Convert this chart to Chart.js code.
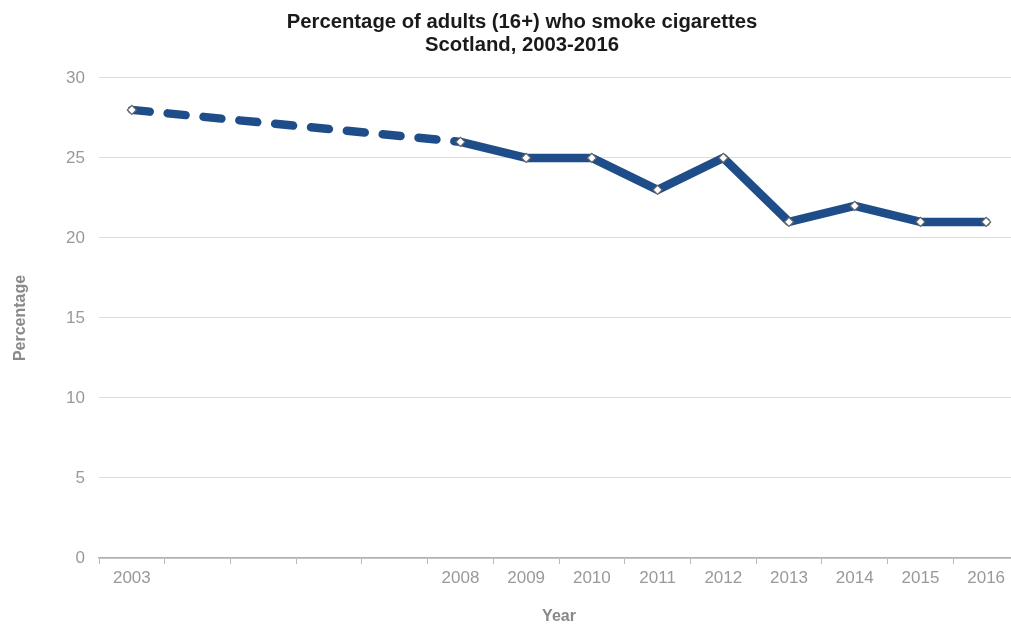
<!DOCTYPE html>
<html>
<head>
<meta charset="utf-8">
<script src="https://cdn.jsdelivr.net/npm/chart.js@4"></script>
<style>
  html, body { margin: 0; padding: 0; background: #fff; overflow: hidden; }
  #wrap { width: 1044px; height: 626px; }
</style>
</head>
<body>
<div id="wrap"><canvas id="smokeChart"></canvas></div>
<script>
// every year on the axis, and the years that have a survey value
const allYears = ['2003','2004','2005','2006','2007','2008','2009','2010','2011','2012','2013','2014','2015','2016'];
const surveyYears = ['2003','2008','2009','2010','2011','2012','2013','2014','2015','2016'];
const smokePct = [28, 26, 25, 25, 23, 25, 21, 22, 21, 21];
const yTicks = [0, 5, 10, 15, 20, 25, 30];

// 2003 -> 2008 gap drawn dashed, rest solid
const gapPoints = surveyYears.slice(0, 2).map((y, i) => ({ x: y, y: smokePct[i] }));
const yearlyPoints = surveyYears.slice(1).map((y, i) => ({ x: y, y: smokePct[i + 1] }));

const lineBlue = '#1f4d89';
const greyText = '#999999';

// centre the title over the whole canvas, not the padded box
const titleShift = {
    id: 'titleShift',
    afterLayout: function(chart) {
        const t = chart.titleBlock;
        if (t) { t.left += 12.5; t.right += 12.5; }
    }
};

const ctx = document.getElementById('smokeChart').getContext('2d');
const smokeChart = new Chart(ctx, {
    type: 'line',
    plugins: [titleShift],
    data: {
        labels: allYears,
        datasets: [{
            label: '2003-2008',
            data: gapPoints,
            order: 1,
            borderColor: lineBlue,
            borderWidth: 8.5,
            borderDash: [18, 18],
            borderCapStyle: 'round',
            pointStyle: 'rectRot',
            pointRadius: [4.5, 0],
            pointBackgroundColor: '#ffffff',
            pointBorderColor: '#666666',
            pointBorderWidth: 1.2,
            tension: 0
        },
        {
            label: 'Smokers',
            data: yearlyPoints,
            order: 0,
            borderColor: lineBlue,
            borderWidth: 8.5,
            borderJoinStyle: 'round',
            borderCapStyle: 'round',
            pointStyle: 'rectRot',
            pointRadius: 4.5,
            pointBackgroundColor: '#ffffff',
            pointBorderColor: '#666666',
            pointBorderWidth: 1.2,
            tension: 0
        }]
    },
    options: {
        responsive: true,
        maintainAspectRatio: false,
        animation: false,
        layout: { padding: { left: 0, right: 25, top: 0, bottom: 0 } },
        scales: {
            x: {
                type: 'category',
                offset: true,
                grid: {
                    offset: true,
                    drawOnChartArea: false,
                    drawTicks: true,
                    tickLength: 6,
                    color: '#b8b8b8',
                    lineWidth: 1
                },
                border: { display: true, color: '#b0b0b0', width: 1.5 },
                ticks: {
                    autoSkip: false,
                    maxRotation: 0,
                    color: greyText,
                    padding: 4,
                    font: { family: 'Liberation Sans, Arial', size: 17 },
                    callback: function(val, i) {
                        const yr = allYears[i];
                        return surveyYears.includes(yr) ? yr : '';
                    }
                },
                title: {
                    display: true,
                    text: 'Year',
                    color: '#888888',
                    font: { family: 'Liberation Sans, Arial', size: 16, weight: 'bold' },
                    padding: { top: 4, bottom: 0 }
                },
                afterFit: function(scale) { scale.height = 68; }
            },
            y: {
                min: 0,
                max: 30,
                afterBuildTicks: function(scale) {
                    scale.ticks = yTicks.map(v => ({ value: v }));
                },
                grid: { color: '#dcdcdc', drawTicks: false, lineWidth: 1 },
                border: { display: false },
                ticks: {
                    color: greyText,
                    padding: 14,
                    font: { family: 'Liberation Sans, Arial', size: 17 }
                },
                title: {
                    display: true,
                    text: 'Percentage',
                    color: '#8a8a8a',
                    font: { family: 'Liberation Sans, Arial', size: 16, weight: 'bold' },
                    padding: { top: 11, bottom: 0 }
                },
                afterFit: function(scale) { scale.width = 99; }
            }
        },
        plugins: {
            legend: { display: false },
            tooltip: { enabled: false },
            title: {
                display: true,
                text: ['Percentage of adults (16+) who smoke cigarettes', 'Scotland, 2003-2016'],
                color: '#1a1a1a',
                font: { family: 'Liberation Sans, Arial', size: 20.3, weight: 'bold', lineHeight: 1.13 },
                padding: { top: 11, bottom: 21 }
            }
        }
    }
});
</script>
</body>
</html>
